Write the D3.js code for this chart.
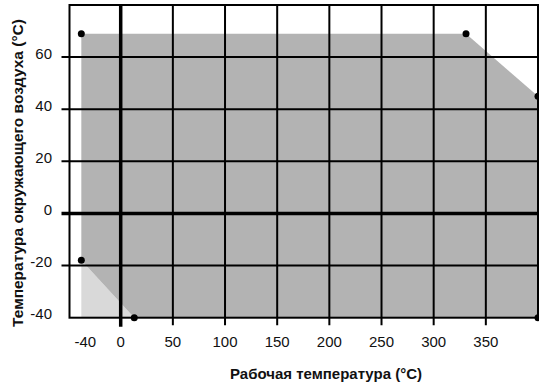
<!DOCTYPE html>
<html lang="ru">
<head>
<meta charset="UTF-8">
<title>Рабочая температура</title>
<script src="https://cdn.jsdelivr.net/npm/d3@7/dist/d3.min.js"></script>
<style>
    body { margin: 0; background: #fff; }
    text { font-family: "Liberation Sans", Arial, sans-serif; fill: #111; }
</style>
</head>
<body>
<script>

    // data
    var xTicks = [-40, 0, 50, 100, 150, 200, 250, 300, 350];
    var yTicks = [-40, -20, 0, 20, 40, 60];
    var xGrid = [50, 100, 150, 200, 250, 300, 350];
    var yGrid = [-20, 20, 40, 60];

    // operating zone (dark) and the extra corner (light)
    var zoneX = [-40, 331, 400, 400, 13, -40];
    var zoneY = [69, 69, 45, -40, -40, -18];
    var cornerX = [-40, -40, 13];
    var cornerY = [-18, -40, -40];

    var xTitle = "Рабочая температура (°C)";
    var yTitle = "Температура окружающего воздуха (°C)";

    var width = 539, height = 385;

    // left of zero is drawn a bit tighter than the rest
    var x = d3.scaleLinear().domain([-52, 0, 400]).range([69.5, 120.7, 538]);
    var y = d3.scaleLinear().domain([-40, 80]).range([317.7, 5]);

    var svg = d3.select("body").append("svg")
        .attr("width", width)
        .attr("height", height);

    var zone = zoneX.map(function(d, i) { return [x(d), y(zoneY[i])]; });
    var corner = cornerX.map(function(d, i) { return [x(d), y(cornerY[i])]; });

    svg.append("polygon")
        .attr("points", corner.join(" "))
        .attr("fill", "#d9d9d9");
    svg.append("polygon")
        .attr("points", zone.join(" "))
        .attr("fill", "#b3b3b3");

    var x0 = x.domain()[0], x1 = x.domain()[2];
    var y0 = y.domain()[0], y1 = y.domain()[1];

    // grid
    svg.selectAll(".vgrid").data(xGrid).enter().append("line")
        .attr("x1", function(d) { return x(d); })
        .attr("x2", function(d) { return x(d); })
        .attr("y1", y(y1))
        .attr("y2", y(y0) + 7.5)
        .attr("stroke", "#000").attr("stroke-width", 2);

    svg.selectAll(".hgrid").data(yGrid).enter().append("line")
        .attr("x1", x(x0) - 8)
        .attr("x2", x(x1))
        .attr("y1", function(d) { return y(d); })
        .attr("y2", function(d) { return y(d); })
        .attr("stroke", "#000").attr("stroke-width", 2);

    // frame
    svg.append("rect")
        .attr("x", x(x0))
        .attr("y", y(y1))
        .attr("width", x(x1) - x(x0))
        .attr("height", y(y0) - y(y1))
        .attr("fill", "none")
        .attr("stroke", "#000").attr("stroke-width", 2);

    // zero axes
    svg.append("line")
        .attr("x1", x(0)).attr("x2", x(0))
        .attr("y1", y(y1)).attr("y2", y(y0) + 9)
        .attr("stroke", "#000").attr("stroke-width", 3.5);
    svg.append("line")
        .attr("x1", x(x0) - 8).attr("x2", width)
        .attr("y1", y(0)).attr("y2", y(0))
        .attr("stroke", "#000").attr("stroke-width", 3.5);

    // corner points
    svg.selectAll(".pt").data(zone).enter().append("circle")
        .attr("cx", function(d) { return d[0]; })
        .attr("cy", function(d) { return d[1]; })
        .attr("r", 3.5)
        .attr("fill", "#000");

    // tick labels
    svg.selectAll(".xl").data(xTicks).enter().append("text")
        .attr("x", function(d) { return x(d); })
        .attr("dx", function(d) { return d < 0 ? 4 : 0; })
        .attr("y", 347)
        .attr("text-anchor", "middle")
        .style("font-size", "15px")
        .text(function(d) { return d; });

    svg.selectAll(".yl").data(yTicks).enter().append("text")
        .attr("x", 52)
        .attr("y", function(d) { return y(d) + 1.5; })
        .attr("text-anchor", "end")
        .style("font-size", "15px")
        .text(function(d) { return d; });

    // titles
    svg.append("text")
        .attr("x", 326)
        .attr("y", 379)
        .attr("text-anchor", "middle")
        .style("font-size", "15px")
        .style("font-weight", "bold")
        .text(xTitle);

    svg.append("text")
        .attr("transform", "translate(22.5,173) rotate(-90)")
        .attr("text-anchor", "middle")
        .style("font-size", "15.5px")
        .style("font-weight", "bold")
        .text(yTitle);

</script>
</body>
</html>
